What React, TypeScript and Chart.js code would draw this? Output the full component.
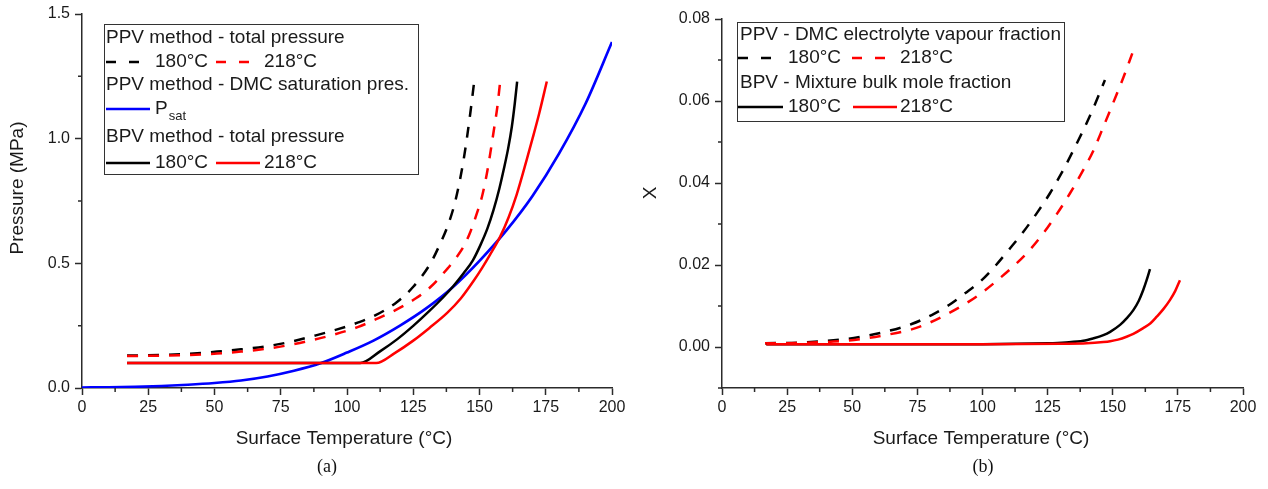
import React, { useEffect, useRef } from 'react';
import { Chart, registerables } from 'chart.js';

Chart.register(...registerables);

const FONT = "'Liberation Sans', Arial, Helvetica, sans-serif";
const AXIS = '#2b2b2b';
const TEXT = '#1a1a1a';
const BLACK = '#000000';
const RED = '#ff0000';
const BLUE = '#0000ff';

// ---------- Panel (a): pressure vs surface temperature ----------
const tPsat = [0, 10, 20, 30, 40, 50, 60, 70, 80, 90, 100, 110, 120, 130, 140, 150, 160, 170, 180, 190, 200];
const pPsat = [0.002, 0.003, 0.005, 0.008, 0.013, 0.02, 0.03, 0.046, 0.069, 0.099, 0.142, 0.19, 0.25, 0.32, 0.405, 0.51, 0.63, 0.77, 0.94, 1.14, 1.388];

const tPpv180 = [17, 25, 40, 51, 60, 70, 79, 87.5, 96, 104, 111, 119, 125, 131.5, 135, 138, 141, 144, 146.5, 148];
const pPpv180 = [0.13, 0.131, 0.137, 0.146, 0.155, 0.168, 0.186, 0.209, 0.234, 0.262, 0.293, 0.346, 0.406, 0.5, 0.575, 0.65, 0.755, 0.915, 1.1, 1.229];

const tPpv218 = [17, 25, 40, 51, 60, 70, 79, 87, 95, 104, 111, 119, 126, 131.5, 138, 141, 144, 146.5, 149, 151, 152.8, 154.2, 155.5, 156.7, 157.8];
const pPpv218 = [0.128, 0.129, 0.132, 0.138, 0.146, 0.158, 0.174, 0.192, 0.214, 0.244, 0.276, 0.316, 0.36, 0.405, 0.48, 0.52, 0.567, 0.625, 0.7, 0.77, 0.861, 0.95, 1.04, 1.125, 1.229];

const tBpv180 = [17, 105, 112.6, 119, 125.2, 131, 136.5, 140, 144, 147.5, 150.3, 153, 155.3, 157.5, 159.1, 160.8, 162.2, 163.3, 164.2];
const pBpv180 = [0.1, 0.1, 0.148, 0.196, 0.251, 0.308, 0.366, 0.407, 0.46, 0.512, 0.572, 0.64, 0.714, 0.8, 0.874, 0.96, 1.048, 1.14, 1.229];

const tBpv218 = [17, 111, 118, 125, 131, 137.7, 143, 147.8, 151, 154, 157.8, 161, 164, 167.8, 170, 172.5, 175.4];
const pBpv218 = [0.1, 0.1, 0.14, 0.19, 0.24, 0.3, 0.36, 0.43, 0.482, 0.535, 0.607, 0.685, 0.775, 0.915, 1.0, 1.1, 1.229];

// ---------- Panel (b): mole fraction vs surface temperature ----------
const tXppv180 = [16.5, 30, 47, 55, 62.6, 72.8, 80.5, 87, 93.3, 99.7, 104.8, 110.6, 115.7, 120.8, 125.9, 131, 134.9, 138.7, 142.5, 147];
const xPpv180 = [0.0009, 0.0011, 0.0019, 0.0027, 0.0037, 0.0056, 0.0078, 0.0102, 0.0131, 0.0163, 0.0197, 0.0241, 0.0281, 0.0326, 0.0375, 0.0432, 0.048, 0.0529, 0.0582, 0.0651];

const tXppv218 = [16.5, 30, 47, 55, 62.6, 72.8, 79.2, 86.9, 94.6, 100.3, 106.7, 113.1, 118.2, 123.3, 128.5, 133.6, 138.7, 142.5, 146.4, 150.2, 154, 157.5];
const xPpv218 = [0.0009, 0.001, 0.0015, 0.0021, 0.0029, 0.0043, 0.0058, 0.0082, 0.011, 0.0135, 0.0168, 0.0204, 0.0237, 0.0277, 0.0324, 0.0375, 0.0432, 0.0478, 0.0537, 0.0596, 0.0656, 0.0716];

const tXbpv180 = [17, 60, 100, 125, 132, 138.7, 142.5, 146.4, 149, 152.8, 155.5, 157.9, 160, 161.7, 163, 164.3];
const xBpv180 = [0.0007, 0.0007, 0.0007, 0.0009, 0.0011, 0.0015, 0.0021, 0.0029, 0.0037, 0.0054, 0.0071, 0.009, 0.0113, 0.0139, 0.0163, 0.019];

const tXbpv218 = [17, 60, 100, 130, 140, 146.4, 149, 152, 155.3, 157.9, 161.7, 164.5, 166.9, 169.5, 172, 174, 175.8];
const xBpv218 = [0.0007, 0.0007, 0.0007, 0.0008, 0.0009, 0.0012, 0.0014, 0.0018, 0.0025, 0.0032, 0.0046, 0.0058, 0.0074, 0.0093, 0.0115, 0.0137, 0.0163];

// ---------- Ticks ----------
const xMajor = [0, 25, 50, 75, 100, 125, 150, 175, 200];
const xMinor = [12.5, 37.5, 62.5, 87.5, 112.5, 137.5, 162.5, 187.5];
const yMajorA = [0, 0.5, 1.0, 1.5];
const yMinorA = [0.25, 0.75, 1.25];
const yMajorB = [0, 0.02, 0.04, 0.06, 0.08];
const yMinorB = [-0.01, 0.01, 0.03, 0.05, 0.07];

const xTitle = 'Surface Temperature (°C)';
const yTitleA = 'Pressure (MPa)';
const yTitleB = 'X';

const zip = (t: number[], v: number[]) => t.map((x, i) => ({ x, y: v[i] }));

function ds(label: string, t: number[], v: number[], color: string, dashed: boolean, order: number, width = 2.5) {
  return {
    label,
    data: zip(t, v),
    borderColor: color,
    backgroundColor: color,
    borderWidth: width,
    borderDash: dashed ? [11, 10] : [],
    pointRadius: 0,
    cubicInterpolationMode: 'monotone',
    fill: false,
    order,
  };
}

const decor = {
  id: 'panelDecor',
  afterDraw(chart: any, _args: any, o: any) {
    const ctx: CanvasRenderingContext2D = chart.ctx;
    const xs = chart.scales.x;
    const ys = chart.scales.y;
    const { left, bottom } = chart.chartArea;
    ctx.save();
    // minor ticks
    ctx.strokeStyle = AXIS;
    ctx.lineWidth = 1.5;
    ctx.setLineDash([]);
    ctx.beginPath();
    for (const v of o.xMinor) {
      const px = xs.getPixelForValue(v);
      ctx.moveTo(px, bottom);
      ctx.lineTo(px, bottom + 4);
    }
    for (const v of o.yMinor) {
      const py = ys.getPixelForValue(v);
      ctx.moveTo(left, py);
      ctx.lineTo(left - 4, py);
    }
    ctx.stroke();
    // axis titles
    ctx.fillStyle = TEXT;
    ctx.font = `19px ${FONT}`;
    ctx.textAlign = 'center';
    ctx.textBaseline = 'middle';
    ctx.fillText(o.xTitle, o.xTitlePos[0], o.xTitlePos[1]);
    ctx.save();
    ctx.translate(o.yTitlePos[0], o.yTitlePos[1]);
    ctx.rotate(-Math.PI / 2);
    ctx.fillText(o.yTitle, 0, 0);
    ctx.restore();
    // legend
    const b = o.legendBox;
    ctx.fillStyle = '#ffffff';
    ctx.fillRect(b[0], b[1], b[2] - b[0], b[3] - b[1]);
    ctx.strokeStyle = '#333333';
    ctx.lineWidth = 1;
    ctx.strokeRect(Math.round(b[0]) + 0.5, Math.round(b[1]) + 0.5, Math.round(b[2] - b[0]), Math.round(b[3] - b[1]));
    ctx.textAlign = 'left';
    ctx.textBaseline = 'middle';
    for (const row of o.legendRows) {
      const y = row.y;
      for (const it of row.items) {
        if (it.t !== undefined) {
          ctx.fillStyle = TEXT;
          ctx.font = `19px ${FONT}`;
          ctx.fillText(it.t, it.x, y);
          if (it.sub) {
            const w = ctx.measureText(it.t).width;
            ctx.font = `13px ${FONT}`;
            ctx.fillText(it.sub, it.x + w + 1, y + 7);
          }
        } else {
          ctx.strokeStyle = it.color;
          ctx.lineWidth = 2.5;
          ctx.setLineDash(it.dash ? [10, 13] : []);
          ctx.beginPath();
          ctx.moveTo(it.x1, y);
          ctx.lineTo(it.x2, y);
          ctx.stroke();
          ctx.setLineDash([]);
        }
      }
    }
    ctx.restore();
  },
};

function makeConfig(spec: any) {
  const tickFont = { family: FONT, size: 16 };
  return {
    type: 'line',
    data: { datasets: spec.datasets },
    options: {
      responsive: false,
      maintainAspectRatio: false,
      animation: false,
      devicePixelRatio: 1,
      layout: { padding: { left: 0, top: spec.top, right: spec.right, bottom: 41 } },
      plugins: {
        legend: { display: false },
        tooltip: { enabled: false },
        panelDecor: spec.decor,
      },
      scales: {
        x: {
          type: 'linear',
          min: 0,
          max: 200,
          afterBuildTicks: (s: any) => {
            s.ticks = xMajor.map((v) => ({ value: v }));
          },
          afterFit: (s: any) => {
            s.height = 60;
            s.paddingLeft = 0;
            s.paddingRight = 0;
          },
          grid: { display: true, drawOnChartArea: false, drawTicks: true, tickLength: 7, tickWidth: 1.5, tickColor: AXIS },
          border: { display: true, color: AXIS, width: 1.5 },
          ticks: {
            autoSkip: false,
            maxRotation: 0,
            padding: 3,
            color: TEXT,
            font: tickFont,
            callback: (v: number) => String(v),
          },
        },
        y: {
          type: 'linear',
          min: spec.yMin,
          max: spec.yMax,
          afterBuildTicks: (s: any) => {
            s.ticks = spec.yMajor.map((v: number) => ({ value: v }));
          },
          afterFit: (s: any) => {
            s.width = spec.yWidth;
            s.paddingTop = 0;
            s.paddingBottom = 0;
          },
          grid: { display: true, drawOnChartArea: false, drawTicks: true, tickLength: 7, tickWidth: 1.5, tickColor: AXIS },
          border: { display: true, color: AXIS, width: 1.5 },
          ticks: {
            autoSkip: false,
            padding: 5,
            color: TEXT,
            font: tickFont,
            callback: (v: number) => Number(v).toFixed(spec.yDigits),
          },
        },
      },
    },
    plugins: [decor],
  };
}

const specA = {
  top: 14,
  right: 22,
  yWidth: 82,
  yMin: 0,
  yMax: 1.5,
  yMajor: yMajorA,
  yDigits: 1,
  datasets: [
    ds('BPV 218°C', tBpv218, pBpv218, RED, false, 0),
    ds('BPV 180°C', tBpv180, pBpv180, BLACK, false, 1),
    ds('PPV 218°C', tPpv218, pPpv218, RED, true, 2),
    ds('PPV 180°C', tPpv180, pPpv180, BLACK, true, 3),
    ds('Psat', tPsat, pPsat, BLUE, false, 4, 2.7),
  ],
  decor: {
    xMinor,
    yMinor: yMinorA,
    xTitle,
    yTitle: yTitleA,
    xTitlePos: [344, 439],
    yTitlePos: [18, 188],
    legendBox: [104, 24, 418, 174],
    legendRows: [
      { y: 38, items: [{ t: 'PPV method - total pressure', x: 106 }] },
      {
        y: 62,
        items: [
          { x1: 106, x2: 141, color: BLACK, dash: true },
          { t: '180°C', x: 155 },
          { x1: 216, x2: 252, color: RED, dash: true },
          { t: '218°C', x: 264 },
        ],
      },
      { y: 85, items: [{ t: 'PPV method - DMC saturation pres.', x: 106 }] },
      {
        y: 109,
        items: [
          { x1: 106, x2: 150, color: BLUE, dash: false },
          { t: 'P', sub: 'sat', x: 155 },
        ],
      },
      { y: 137, items: [{ t: 'BPV method - total pressure', x: 106 }] },
      {
        y: 163,
        items: [
          { x1: 106, x2: 150, color: BLACK, dash: false },
          { t: '180°C', x: 155 },
          { x1: 216, x2: 260, color: RED, dash: false },
          { t: '218°C', x: 264 },
        ],
      },
    ],
  },
};

const specB = {
  top: 19,
  right: 25,
  yWidth: 88,
  yMin: -0.01,
  yMax: 0.08,
  yMajor: yMajorB,
  yDigits: 2,
  datasets: [
    ds('BPV 218°C', tXbpv218, xBpv218, RED, false, 0),
    ds('BPV 180°C', tXbpv180, xBpv180, BLACK, false, 1),
    ds('PPV 218°C', tXppv218, xPpv218, RED, true, 2),
    ds('PPV 180°C', tXppv180, xPpv180, BLACK, true, 3),
  ],
  decor: {
    xMinor,
    yMinor: yMinorB,
    xTitle,
    yTitle: yTitleB,
    xTitlePos: [347, 439],
    yTitlePos: [17, 193],
    legendBox: [103, 22, 430, 121],
    legendRows: [
      { y: 35, items: [{ t: 'PPV - DMC electrolyte vapour fraction', x: 106 }] },
      {
        y: 58,
        items: [
          { x1: 104, x2: 148, color: BLACK, dash: true },
          { t: '180°C', x: 154 },
          { x1: 218, x2: 253, color: RED, dash: true },
          { t: '218°C', x: 266 },
        ],
      },
      { y: 83, items: [{ t: 'BPV - Mixture bulk mole fraction', x: 106 }] },
      {
        y: 107,
        items: [
          { x1: 104, x2: 149, color: BLACK, dash: false },
          { t: '180°C', x: 154 },
          { x1: 219, x2: 263, color: RED, dash: false },
          { t: '218°C', x: 266 },
        ],
      },
    ],
  },
};

function Panel({ spec, left }: { spec: any; left: number }) {
  const ref = useRef<HTMLCanvasElement | null>(null);
  useEffect(() => {
    if (!ref.current) return;
    const chart = new Chart(ref.current, makeConfig(spec) as any);
    return () => chart.destroy();
  }, [spec]);
  return (
    <canvas
      ref={ref}
      width={634}
      height={489}
      style={{ position: 'absolute', left, top: 0, width: 634, height: 489 }}
    />
  );
}

const captionStyle: React.CSSProperties = {
  position: 'absolute',
  top: 455,
  width: 100,
  textAlign: 'center',
  fontFamily: "'Liberation Serif', 'Times New Roman', serif",
  fontSize: 18,
  lineHeight: '22px',
  color: '#111',
};

export default function App() {
  return (
    <div style={{ position: 'absolute', left: 0, top: 0, width: 1268, height: 489, background: '#fff', overflow: 'hidden' }}>
      <Panel spec={specA} left={0} />
      <Panel spec={specB} left={634} />
      <div style={{ ...captionStyle, left: 327 - 50 }}>(a)</div>
      <div style={{ ...captionStyle, left: 983 - 50 }}>(b)</div>
    </div>
  );
}
